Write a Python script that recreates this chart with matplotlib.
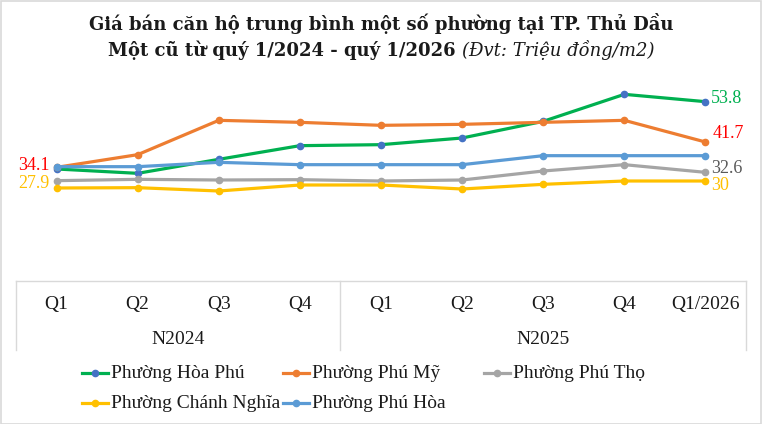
import matplotlib
matplotlib.use('Agg')
from matplotlib import pyplot as plt
from matplotlib.lines import Line2D

quarters = ["Q1", "Q2", "Q3", "Q4", "Q1", "Q2", "Q3", "Q4", "Q1/2026"]
years = ["N2024", "N2025"]
year_spans = [(0, 3), (4, 8)]

hoa_phu = [33.6, 32.3, 36.5, 40.6, 40.9, 42.9, 47.9, 56.0, 53.8]
phu_my = [34.1, 37.9, 48.2, 47.6, 46.7, 47.0, 47.6, 48.2, 41.7]
phu_tho = [30.1, 30.5, 30.3, 30.4, 30.0, 30.3, 33.0, 34.9, 32.6]
chanh_nghia = [27.9, 28.0, 27.0, 28.8, 28.8, 27.6, 29.0, 30.0, 30.0]
phu_hoa = [34.3, 34.3, 35.6, 34.9, 34.9, 34.9, 37.6, 37.6, 37.6]

# name, values, line colour, marker colour
series = [
    ("Phường Hòa Phú", hoa_phu, "#00B050", "#4472C4"),
    ("Phường Phú Mỹ", phu_my, "#ED7D31", "#ED7D31"),
    ("Phường Phú Thọ", phu_tho, "#A5A5A5", "#A5A5A5"),
    ("Phường Chánh Nghĩa", chanh_nghia, "#FFC000", "#FFC000"),
    ("Phường Phú Hòa", phu_hoa, "#5B9BD5", "#5B9BD5"),
]

SERIF = "Liberation Serif"

fig = plt.figure(figsize=(7.62, 4.24), dpi=100)
fig.patch.set_facecolor("white")
fig.patches.append(plt.Rectangle((0.001, 0.001), 0.998, 0.997, transform=fig.transFigure,
                                 fill=False, edgecolor="#D9D9D9", linewidth=1.2))

ax = fig.add_axes([16 / 762, 1 - 281 / 424, 730 / 762, 200 / 424])
x = list(range(len(quarters)))
for name, vals, col, mcol in series:
    ax.plot(x, vals, color=col, linewidth=2.3, marker="o", markersize=4.5,
            markerfacecolor=mcol, markeredgecolor=mcol, solid_capstyle="round")

ax.set_xlim(-0.5, len(quarters) - 0.5)
ax.set_ylim(0, 60)
ax.set_yticks([])
ax.set_xticks([])
for s in ["left", "right", "top"]:
    ax.spines[s].set_visible(False)
ax.spines["bottom"].set_color("#D9D9D9")
ax.spines["bottom"].set_linewidth(1)

tr = ax.get_xaxis_transform()
for i, q in enumerate(quarters):
    ax.text(i, -0.115, q, transform=tr, ha="center", va="center",
            fontsize=14, family=SERIF, color="#1a1a1a")
for (a, b), yname in zip(year_spans, years):
    ax.text((a + b) / 2, -0.29, yname, transform=tr, ha="center", va="center",
            fontsize=14, family=SERIF, color="#1a1a1a")
for xs in [-0.5, 3.5, 8.5]:
    ax.plot([xs, xs], [0, -0.345], transform=tr, color="#D9D9D9", linewidth=1, clip_on=False)

# data labels at first and last points
ax.annotate(f"{phu_my[0]}", (0, phu_my[0]), xytext=(-5, 1), textcoords="offset points",
            ha="right", va="center", fontsize=13, family=SERIF, color="#FF0000")
ax.annotate(f"{chanh_nghia[0]}", (0, chanh_nghia[0]), xytext=(-5, 3), textcoords="offset points",
            ha="right", va="center", fontsize=13, family=SERIF, color="#FFC000")
last = len(quarters) - 1
ax.annotate(f"{hoa_phu[-1]}", (last, hoa_phu[-1]), xytext=(4, 2), textcoords="offset points",
            ha="left", va="center", fontsize=13, family=SERIF, color="#00B050")
ax.annotate(f"{phu_my[-1]}", (last, phu_my[-1]), xytext=(5, 6), textcoords="offset points",
            ha="left", va="center", fontsize=13, family=SERIF, color="#FF0000")
ax.annotate(f"{phu_tho[-1]}", (last, phu_tho[-1]), xytext=(4, 3), textcoords="offset points",
            ha="left", va="center", fontsize=13, family=SERIF, color="#595959")
ax.annotate(f"{chanh_nghia[-1]:g}", (last, chanh_nghia[-1]), xytext=(4, -3), textcoords="offset points",
            ha="left", va="center", fontsize=13, family=SERIF, color="#FFC000")

# title
fig.text(0.5, 1 - 23 / 424, "Giá bán căn hộ trung bình một số phường tại TP. Thủ Dầu",
         ha="center", va="center", fontsize=13, fontweight="bold", family="DejaVu Serif",
         color="#1a1a1a")
t1 = fig.text(0.5, 1 - 50 / 424, "Một cũ từ quý 1/2024 - quý 1/2026 ",
              ha="center", va="center", fontsize=13, fontweight="bold", family="DejaVu Serif",
              color="#1a1a1a")
t2 = fig.text(0.5, 1 - 50 / 424, "(Đvt: Triệu đồng/m2)", ha="left", va="center",
              fontsize=13, style="italic", family="DejaVu Serif", color="#1a1a1a")
r = fig.canvas.get_renderer()
w1 = t1.get_window_extent(r).width
w2 = t2.get_window_extent(r).width
start = (762 - (w1 + w2)) / 2
t1.set_ha("left")
t1.set_x(start / 762)
t2.set_x((start + w1) / 762)

# legend, laid out in equal-width columns
order = [0, 1, 2, 3, 4]
for k, idx in enumerate(order):
    name, vals, col, mcol = series[idx]
    row, c = divmod(k, 3)
    x0 = 82 + c * 201
    y0 = 1 - (373 + row * 30) / 424
    fig.add_artist(Line2D([x0 / 762, (x0 + 26) / 762], [y0, y0], transform=fig.transFigure,
                          color=col, linewidth=2.3))
    fig.add_artist(Line2D([(x0 + 13) / 762], [y0], transform=fig.transFigure, marker="o",
                          markersize=4.5, color=mcol, linestyle="none"))
    fig.text((x0 + 29) / 762, y0, name, ha="left", va="center", fontsize=14,
             family=SERIF, color="#1a1a1a")

fig.savefig("out.png", dpi=100, facecolor="white")
